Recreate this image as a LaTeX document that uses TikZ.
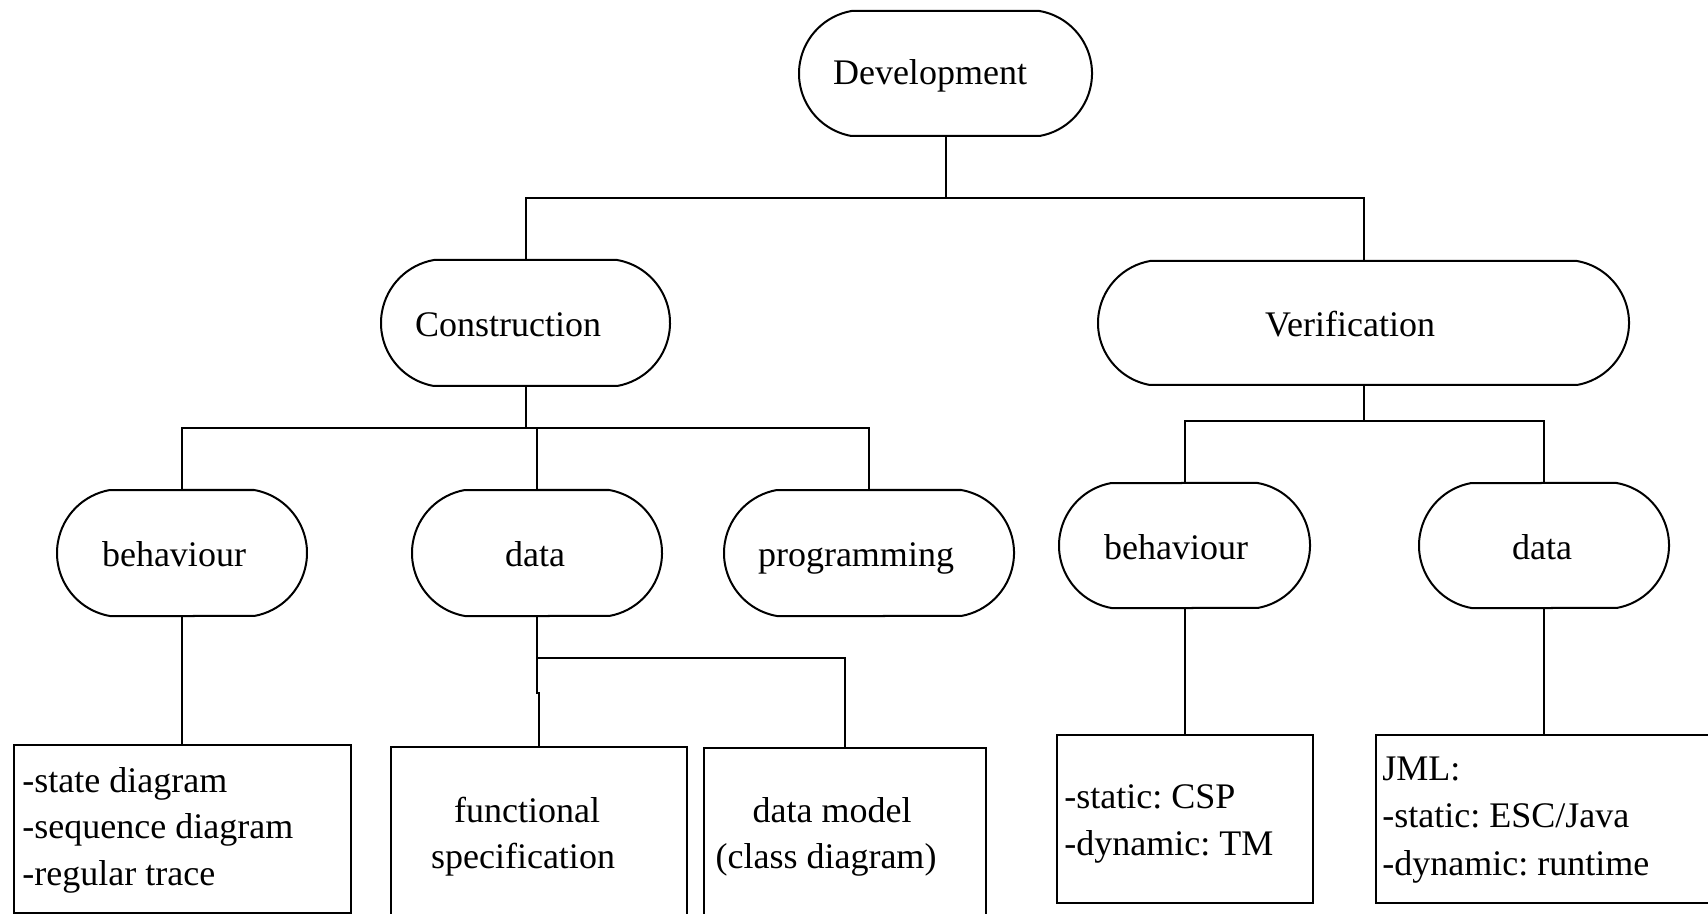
\documentclass[tikz,border=0pt]{standalone}
\usepackage{fontspec}
\setmainfont{Liberation Serif}
\usetikzlibrary{shapes.misc}
\tikzset{
  rr/.style={draw, line width=1pt, rounded rectangle, rounded rectangle arc length=160, inner sep=0pt},
  box/.style={draw, line width=1pt, rectangle, inner sep=0pt},
  lbl/.style={font=\fontsize{18}{23.5}\selectfont\frenchspacing, inner sep=0pt},
  conn/.style={line width=1pt}
}
\begin{document}
\begin{tikzpicture}[x=0.5pt,y=-0.5pt]
\useasboundingbox (0,0) rectangle (1708,914);
% rounded nodes
\node[rr, minimum width=146.5pt, minimum height=62.5pt] (dev) at (945.5,73.5) {};
\node[rr, minimum width=144.5pt, minimum height=63pt] (con) at (525.5,323) {};
\node[rr, minimum width=265.5pt, minimum height=62pt] (ver) at (1363.5,323) {};
\node[rr, minimum width=125pt, minimum height=63pt] (behL) at (182,553) {};
\node[rr, minimum width=125pt, minimum height=63pt] (datL) at (537,553) {};
\node[rr, minimum width=145pt, minimum height=63pt] (prog) at (869,553) {};
\node[rr, minimum width=125.5pt, minimum height=62.5pt] (behR) at (1184.5,545.5) {};
\node[rr, minimum width=125pt, minimum height=62.5pt] (datR) at (1544,545.5) {};
% boxes
\node[box, minimum width=168.5pt, minimum height=84pt] (boxL) at (182,829) {};
\node[box, minimum width=148pt, minimum height=87.5pt] (boxF) at (539,834.5) {};
\node[box, minimum width=141pt, minimum height=87pt] (boxM) at (845,835) {};
\node[box, minimum width=128pt, minimum height=84pt] (boxC) at (1184.5,819) {};
\node[box, minimum width=168pt, minimum height=84pt] (boxJ) at (1544,819) {};
% labels of rounded nodes
\node[lbl, anchor=base] (devT) at (930,85) {Development};
\node[lbl, anchor=base] (conT) at (508,337) {Construction};
\node[lbl, anchor=base] (verT) at (1350,337) {Verification};
\node[lbl, anchor=base] (behLT) at (174,566) {behaviour};
\node[lbl, anchor=base] (datLT) at (535,566) {data};
\node[lbl, anchor=base] (progT) at (856,566) {programming};
\node[lbl, anchor=base] (behRT) at (1176,559) {behaviour};
\node[lbl, anchor=base] (datRT) at (1542,559) {data};
% labels of boxes
\node[lbl, anchor=base west] (l1) at (22,792) {-state diagram};
\node[lbl, anchor=base west] (l2) at (22,838) {-sequence diagram};
\node[lbl, anchor=base west] (l3) at (22,885) {-regular trace};
\node[lbl, anchor=base] (f1) at (527,822) {functional};
\node[lbl, anchor=base] (f2) at (523,868) {specification};
\node[lbl, anchor=base] (m1) at (832,822) {data model};
\node[lbl, anchor=base] (m2) at (826,868) {(class diagram)};
\node[lbl, anchor=base west] (c1) at (1064,808) {-static: CSP};
\node[lbl, anchor=base west] (c2) at (1064,855) {-dynamic: TM};
\node[lbl, anchor=base west] (j1) at (1382,780) {JML:};
\node[lbl, anchor=base west] (j2) at (1382,827) {-static: ESC/Java};
\node[lbl, anchor=base west] (j3) at (1382,875) {-dynamic: runtime};
% connectors
\coordinate (b1) at (945.5,198);
\coordinate (b2) at (525.5,428);
\coordinate (b3) at (1363.5,421);
\coordinate (b4) at (537,658);
\coordinate (b5) at (537,693);
\draw[conn] (dev.south) -- (b1);
\draw[conn] (con.north) -- (con.north |- b1) -- (ver.north |- b1) -- (ver.north);
\draw[conn] (con.south) -- (b2);
\draw[conn] (behL.north) -- (behL.north |- b2) -- (prog.north |- b2) -- (prog.north);
\draw[conn] (datL.north) -- (datL.north |- b2);
\draw[conn] (ver.south) -- (b3);
\draw[conn] (behR.north) -- (behR.north |- b3) -- (datR.north |- b3) -- (datR.north);
\draw[conn] (behL.south) -- (boxL.north);
\draw[conn] (datL.south) -- (b4) -- (boxM.north |- b4) -- (boxM.north);
\draw[conn] (b4) -- (b5) -- (boxF.north |- b5) -- (boxF.north);
\draw[conn] (behR.south) -- (boxC.north);
\draw[conn] (datR.south) -- (boxJ.north);
\end{tikzpicture}
\end{document}
